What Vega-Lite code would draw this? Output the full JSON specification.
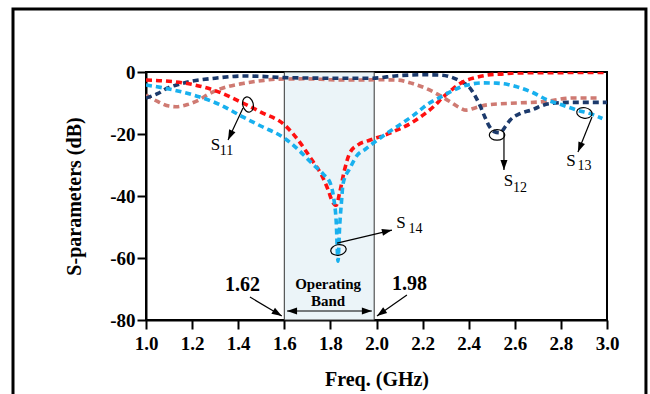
{
  "$schema": "https://vega.github.io/schema/vega-lite/v6.json",
  "width": 461,
  "height": 248,
  "autosize": {"type": "none"},
  "padding": {"left": 146, "top": 72, "right": 43, "bottom": 74},
  "background": "white",
  "config": {
    "view": {"stroke": "black", "strokeWidth": 2},
    "font": "Liberation Serif",
    "axis": {
      "grid": false,
      "domainColor": "black",
      "domainWidth": 2,
      "tickColor": "black",
      "tickWidth": 2,
      "tickSize": 9,
      "labelFont": "Liberation Serif",
      "labelFontWeight": "bold",
      "labelFontSize": 19,
      "labelColor": "black",
      "titleFont": "Liberation Serif",
      "titleFontWeight": "bold",
      "titleFontSize": 20,
      "titleColor": "black",
      "labelOverlap": false,
      "labelFlush": false
    }
  },
  "datasets": {
    "curves": [
      {"s": "S13", "f": 1.0, "db": -7.4}, {"s": "S13", "f": 1.05, "db": -9.5}, {"s": "S13", "f": 1.1, "db": -11}, {"s": "S13", "f": 1.13, "db": -11.2}, {"s": "S13", "f": 1.18, "db": -10.5}, {"s": "S13", "f": 1.23, "db": -9}, {"s": "S13", "f": 1.27, "db": -7.2}, {"s": "S13", "f": 1.31, "db": -5.8}, {"s": "S13", "f": 1.36, "db": -4.6}, {"s": "S13", "f": 1.42, "db": -3.7}, {"s": "S13", "f": 1.5, "db": -2.8}, {"s": "S13", "f": 1.57, "db": -2.3}, {"s": "S13", "f": 1.7, "db": -2.2}, {"s": "S13", "f": 1.8, "db": -2.5}, {"s": "S13", "f": 1.9, "db": -2.6}, {"s": "S13", "f": 2.0, "db": -2.5}, {"s": "S13", "f": 2.09, "db": -2.6}, {"s": "S13", "f": 2.16, "db": -3.8}, {"s": "S13", "f": 2.23, "db": -5.8}, {"s": "S13", "f": 2.28, "db": -7.8}, {"s": "S13", "f": 2.32, "db": -9.6}, {"s": "S13", "f": 2.36, "db": -11.5}, {"s": "S13", "f": 2.39, "db": -12.3}, {"s": "S13", "f": 2.43, "db": -11.5}, {"s": "S13", "f": 2.48, "db": -10.6}, {"s": "S13", "f": 2.61, "db": -10}, {"s": "S13", "f": 2.72, "db": -9.6}, {"s": "S13", "f": 2.85, "db": -8.4}, {"s": "S13", "f": 2.97, "db": -8.4},
      {"s": "S12", "f": 1.0, "db": -8.4}, {"s": "S12", "f": 1.05, "db": -7}, {"s": "S12", "f": 1.09, "db": -5.3}, {"s": "S12", "f": 1.14, "db": -4}, {"s": "S12", "f": 1.19, "db": -3.1}, {"s": "S12", "f": 1.3, "db": -2}, {"s": "S12", "f": 1.42, "db": -1.3}, {"s": "S12", "f": 1.5, "db": -1.4}, {"s": "S12", "f": 1.6, "db": -1.8}, {"s": "S12", "f": 1.8, "db": -2.0}, {"s": "S12", "f": 1.98, "db": -2.0}, {"s": "S12", "f": 2.09, "db": -1.2}, {"s": "S12", "f": 2.2, "db": -0.9}, {"s": "S12", "f": 2.28, "db": -1.0}, {"s": "S12", "f": 2.33, "db": -1.8}, {"s": "S12", "f": 2.37, "db": -3.2}, {"s": "S12", "f": 2.4, "db": -4.7}, {"s": "S12", "f": 2.43, "db": -8}, {"s": "S12", "f": 2.45, "db": -11}, {"s": "S12", "f": 2.47, "db": -14.5}, {"s": "S12", "f": 2.49, "db": -17.6}, {"s": "S12", "f": 2.51, "db": -19.2}, {"s": "S12", "f": 2.535, "db": -19.6}, {"s": "S12", "f": 2.56, "db": -17.5}, {"s": "S12", "f": 2.58, "db": -15.5}, {"s": "S12", "f": 2.62, "db": -13.5}, {"s": "S12", "f": 2.67, "db": -12.3}, {"s": "S12", "f": 2.75, "db": -10.2}, {"s": "S12", "f": 2.85, "db": -9.8}, {"s": "S12", "f": 3.0, "db": -9.8},
      {"s": "S11", "f": 1.0, "db": -2.6}, {"s": "S11", "f": 1.1, "db": -3.0}, {"s": "S11", "f": 1.2, "db": -4.0}, {"s": "S11", "f": 1.3, "db": -6.0}, {"s": "S11", "f": 1.42, "db": -10}, {"s": "S11", "f": 1.5, "db": -13}, {"s": "S11", "f": 1.6, "db": -17}, {"s": "S11", "f": 1.65, "db": -21}, {"s": "S11", "f": 1.72, "db": -28.4}, {"s": "S11", "f": 1.76, "db": -33}, {"s": "S11", "f": 1.79, "db": -38}, {"s": "S11", "f": 1.81, "db": -42}, {"s": "S11", "f": 1.825, "db": -43}, {"s": "S11", "f": 1.84, "db": -39}, {"s": "S11", "f": 1.86, "db": -32}, {"s": "S11", "f": 1.885, "db": -26}, {"s": "S11", "f": 1.92, "db": -23.5}, {"s": "S11", "f": 1.97, "db": -22}, {"s": "S11", "f": 2.03, "db": -20.5}, {"s": "S11", "f": 2.09, "db": -18.7}, {"s": "S11", "f": 2.15, "db": -16.5}, {"s": "S11", "f": 2.2, "db": -14}, {"s": "S11", "f": 2.25, "db": -11}, {"s": "S11", "f": 2.29, "db": -8}, {"s": "S11", "f": 2.33, "db": -5.5}, {"s": "S11", "f": 2.375, "db": -3.2}, {"s": "S11", "f": 2.43, "db": -1.8}, {"s": "S11", "f": 2.48, "db": -1}, {"s": "S11", "f": 2.55, "db": -0.6}, {"s": "S11", "f": 2.61, "db": -0.3}, {"s": "S11", "f": 2.8, "db": -0.2}, {"s": "S11", "f": 3.0, "db": -0.1},
      {"s": "S14", "f": 1.0, "db": -4.2}, {"s": "S14", "f": 1.1, "db": -5.5}, {"s": "S14", "f": 1.23, "db": -8}, {"s": "S14", "f": 1.32, "db": -10.5}, {"s": "S14", "f": 1.42, "db": -14.5}, {"s": "S14", "f": 1.5, "db": -17.5}, {"s": "S14", "f": 1.6, "db": -21.3}, {"s": "S14", "f": 1.66, "db": -25}, {"s": "S14", "f": 1.72, "db": -29.5}, {"s": "S14", "f": 1.77, "db": -33}, {"s": "S14", "f": 1.8, "db": -36}, {"s": "S14", "f": 1.815, "db": -41}, {"s": "S14", "f": 1.825, "db": -48}, {"s": "S14", "f": 1.833, "db": -61}, {"s": "S14", "f": 1.84, "db": -50}, {"s": "S14", "f": 1.848, "db": -42}, {"s": "S14", "f": 1.855, "db": -36}, {"s": "S14", "f": 1.885, "db": -31}, {"s": "S14", "f": 1.915, "db": -27}, {"s": "S14", "f": 1.95, "db": -25}, {"s": "S14", "f": 1.985, "db": -23}, {"s": "S14", "f": 2.04, "db": -20}, {"s": "S14", "f": 2.09, "db": -17.6}, {"s": "S14", "f": 2.16, "db": -14}, {"s": "S14", "f": 2.23, "db": -10}, {"s": "S14", "f": 2.28, "db": -8}, {"s": "S14", "f": 2.32, "db": -6.4}, {"s": "S14", "f": 2.36, "db": -5}, {"s": "S14", "f": 2.405, "db": -4}, {"s": "S14", "f": 2.46, "db": -3.5}, {"s": "S14", "f": 2.52, "db": -3.6}, {"s": "S14", "f": 2.57, "db": -4}, {"s": "S14", "f": 2.61, "db": -4.8}, {"s": "S14", "f": 2.68, "db": -6.7}, {"s": "S14", "f": 2.74, "db": -9}, {"s": "S14", "f": 2.8, "db": -10.5}, {"s": "S14", "f": 2.87, "db": -12.3}, {"s": "S14", "f": 2.93, "db": -13.5}, {"s": "S14", "f": 2.98, "db": -15}
    ],
    "band": [{"f1": 1.6, "f2": 1.99, "lo": -80, "hi": 0}],
    "frame": [{"f1": 0.423, "f2": 3.169, "lo": -106, "hi": 20.3}],
    "rules": [
      {"f1": 1.4208, "d1": -11.6, "f2": 1.356, "d2": -21.9},
      {"f1": 2.553, "d1": -19.7, "f2": 2.553, "d2": -31.6},
      {"f1": 2.935, "d1": -14.5, "f2": 2.874, "d2": -25.8},
      {"f1": 1.829, "d1": -55.2, "f2": 2.067, "d2": -51.0},
      {"f1": 1.451, "d1": -72.6, "f2": 1.589, "d2": -78.7},
      {"f1": 2.132, "d1": -71.9, "f2": 2.002, "d2": -78.7},
      {"f1": 1.612, "d1": -77.1, "f2": 1.98, "d2": -77.1}
    ],
    "heads": [
      {"f": 1.356, "d": -21.9, "angle": 205},
      {"f": 2.553, "d": -31.6, "angle": 180},
      {"f": 2.874, "d": -25.8, "angle": 202},
      {"f": 2.067, "d": -51.0, "angle": 77},
      {"f": 1.589, "d": -78.7, "angle": 121},
      {"f": 2.002, "d": -78.7, "angle": 235},
      {"f": 1.612, "d": -77.1, "angle": 270},
      {"f": 1.98, "d": -77.1, "angle": 90}
    ],
    "ellipses": [
      {"f": 1.4425, "d": -10.5, "angle": 75},
      {"f": 2.523, "d": -20.3, "angle": 0},
      {"f": 2.902, "d": -13.2, "angle": 10},
      {"f": 1.835, "d": -57.4, "angle": -10}
    ],
    "sletters": [
      {"f": 1.3015, "d": -23.7, "t": "S"},
      {"f": 2.573, "d": -35.3, "t": "S"},
      {"f": 2.844, "d": -28.7, "t": "S"},
      {"f": 2.106, "d": -48.7, "t": "S"}
    ],
    "subs": [
      {"f": 1.349, "d": -25.6, "t": "11"},
      {"f": 2.623, "d": -37.4, "t": "12"},
      {"f": 2.902, "d": -30.3, "t": "13"},
      {"f": 2.169, "d": -50.6, "t": "14"}
    ],
    "edges": [
      {"f": 1.419, "d": -68.7, "t": "1.62"},
      {"f": 2.143, "d": -68.5, "t": "1.98"}
    ],
    "bandtext": [
      {"f": 1.79, "d": -68.4, "t": "Operating"},
      {"f": 1.79, "d": -73.9, "t": "Band"}
    ]
  },
  "layer": [
    {
      "data": {"name": "band"},
      "mark": {"type": "rect", "fill": "#ebf4f8", "stroke": "#333333", "strokeWidth": 1},
      "encoding": {
        "x": {"field": "f1", "type": "quantitative", "scale": {"domain": [1, 3], "nice": false, "zero": false},
          "axis": {"title": "Freq. (GHz)", "values": [1.0,1.1,1.2,1.3,1.4,1.5,1.6,1.7,1.8,1.9,2.0,2.1,2.2,2.3,2.4,2.5,2.6,2.7,2.8,2.9,3.0],
            "labelExpr": "(round(datum.value*10) % 2 == 0) ? format(datum.value, '.1f') : ''", "labelPadding": 5, "titlePadding": 16}},
        "x2": {"field": "f2"},
        "y": {"field": "lo", "type": "quantitative", "scale": {"domain": [-80, 0], "nice": false, "zero": false},
          "axis": {"title": "S-parameters (dB)", "values": [-80,-70,-60,-50,-40,-30,-20,-10,0],
            "labelExpr": "(datum.value % 20 == 0) ? ('' + datum.value) : ''", "labelPadding": 2, "titlePadding": 25}},
        "y2": {"field": "hi"}
      }
    },
    {
      "data": {"name": "frame"},
      "mark": {"type": "rect", "fill": null, "stroke": "black", "strokeWidth": 3, "clip": false},
      "encoding": {
        "x": {"field": "f1", "type": "quantitative"},
        "x2": {"field": "f2"},
        "y": {"field": "lo", "type": "quantitative"},
        "y2": {"field": "hi"}
      }
    },
    {
      "data": {"name": "curves"},
      "mark": {"type": "line", "strokeWidth": 3.6, "strokeDash": [6, 4], "interpolate": "monotone", "clip": true},
      "encoding": {
        "x": {"field": "f", "type": "quantitative"},
        "y": {"field": "db", "type": "quantitative"},
        "color": {"field": "s", "type": "nominal", "legend": null,
          "scale": {"domain": ["S13", "S12", "S11", "S14"], "range": ["#cf7a72", "#1c3a6c", "#ff1010", "#18b0ee"]}},
        "order": {"field": "f", "type": "quantitative"}
      }
    },
    {
      "data": {"name": "rules"},
      "mark": {"type": "rule", "color": "black", "strokeWidth": 1.2},
      "encoding": {
        "x": {"field": "f1", "type": "quantitative"},
        "y": {"field": "d1", "type": "quantitative"},
        "x2": {"field": "f2"},
        "y2": {"field": "d2"}
      }
    },
    {
      "data": {"name": "heads"},
      "mark": {"type": "point", "shape": "M0,0L-0.7,2L0.7,2Z", "filled": true, "color": "black", "size": 100, "opacity": 1},
      "encoding": {
        "x": {"field": "f", "type": "quantitative"},
        "y": {"field": "d", "type": "quantitative"},
        "angle": {"field": "angle", "type": "quantitative", "scale": null}
      }
    },
    {
      "data": {"name": "ellipses"},
      "mark": {"type": "point", "shape": "M-1,0A1,0.68,0,1,0,1,0A1,0.68,0,1,0,-1,0Z", "filled": false, "color": "black", "strokeWidth": 1.2, "size": 240, "opacity": 1},
      "encoding": {
        "x": {"field": "f", "type": "quantitative"},
        "y": {"field": "d", "type": "quantitative"},
        "angle": {"field": "angle", "type": "quantitative", "scale": null}
      }
    },
    {
      "data": {"name": "sletters"},
      "mark": {"type": "text", "font": "Liberation Serif", "fontSize": 17, "color": "black", "align": "center", "baseline": "middle"},
      "encoding": {
        "x": {"field": "f", "type": "quantitative"},
        "y": {"field": "d", "type": "quantitative"},
        "text": {"field": "t"}
      }
    },
    {
      "data": {"name": "subs"},
      "mark": {"type": "text", "font": "Liberation Serif", "fontSize": 14, "color": "black", "align": "center", "baseline": "middle"},
      "encoding": {
        "x": {"field": "f", "type": "quantitative"},
        "y": {"field": "d", "type": "quantitative"},
        "text": {"field": "t"}
      }
    },
    {
      "data": {"name": "edges"},
      "mark": {"type": "text", "font": "Liberation Serif", "fontSize": 20, "fontWeight": "bold", "color": "black", "align": "center", "baseline": "middle"},
      "encoding": {
        "x": {"field": "f", "type": "quantitative"},
        "y": {"field": "d", "type": "quantitative"},
        "text": {"field": "t"}
      }
    },
    {
      "data": {"name": "bandtext"},
      "mark": {"type": "text", "font": "Liberation Serif", "fontSize": 15, "fontWeight": "bold", "color": "black", "align": "center", "baseline": "middle"},
      "encoding": {
        "x": {"field": "f", "type": "quantitative"},
        "y": {"field": "d", "type": "quantitative"},
        "text": {"field": "t"}
      }
    }
  ]
}
